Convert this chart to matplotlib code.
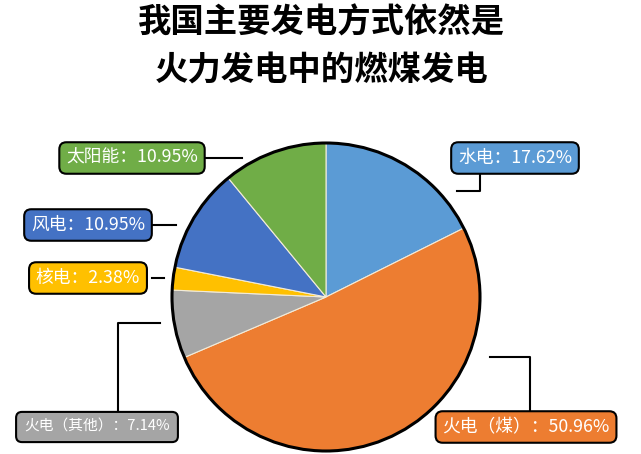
import matplotlib.pyplot as plt
from matplotlib.patches import Circle

plt.rcParams['font.family'] = ['Noto Sans CJK SC', 'DejaVu Sans']

# 数据
names = ['水电', '火电（煤）', '火电（其他）', '核电', '风电', '太阳能']
shares = [17.62, 50.96, 7.14, 2.38, 10.95, 10.95]
colors = ['#5B9BD5', '#ED7D31', '#A5A5A5', '#FFC000', '#4472C4', '#70AD47']
title_lines = ['我国主要发电方式依然是', '火力发电中的燃煤发电']

W, H = 641, 454
fig = plt.figure(figsize=(W / 100, H / 100), dpi=100)
ax = fig.add_axes([0, 0, 1, 1])

cx, cy, r = 326, H - 297, 154
ax.pie(shares, colors=colors, startangle=90, counterclock=False,
       center=(cx, cy), radius=r, frame=True,
       wedgeprops=dict(edgecolor='#F2EBD9', linewidth=0.8))
ax.set_xlim(0, W)
ax.set_ylim(0, H)
ax.axis('off')
ax.add_patch(Circle((cx, cy), r, fill=False, edgecolor='black', lw=2.2, zorder=5))

for line, ty in zip(title_lines, [23, 71]):
    ax.text(W / 2 + 1, H - ty, line, ha='center', va='center', fontsize=24,
            fontweight='black')

# 标签框中心 (像素坐标, y 向下), 字号, 内边距, 引线折点
boxes = {
    '水电': (515, 158, 12.8, 0.38, [(480, 174), (480, 191), (457, 191)]),
    '火电（煤）': (526, 427, 12.8, 0.38, [(530, 411), (530, 357), (490, 357)]),
    '火电（其他）': (97, 427, 10.6, 0.55, [(118, 411), (118, 323), (160, 323)]),
    '核电': (88, 278, 12.8, 0.38, [(152, 278), (164, 278)]),
    '风电': (88, 225, 12.8, 0.38, [(152, 225), (176, 225)]),
    '太阳能': (132, 158, 12.8, 0.38, [(205, 158), (242, 158)]),
}

for name, v, c in zip(names, shares, colors):
    bx, by, fs, pad, pts = boxes[name]
    ax.text(bx, H - by, f'{name}：{v:.2f}%', ha='center', va='center',
            fontsize=fs, color='white', style='italic', zorder=6,
            bbox=dict(boxstyle=f'round,pad={pad},rounding_size=0.4',
                      facecolor=c, edgecolor='black', linewidth=1.5))
    xs = [p[0] for p in pts]
    ys = [H - p[1] for p in pts]
    ax.plot(xs, ys, color='black', lw=1.5, zorder=4)

fig.savefig('out.png', dpi=100)
